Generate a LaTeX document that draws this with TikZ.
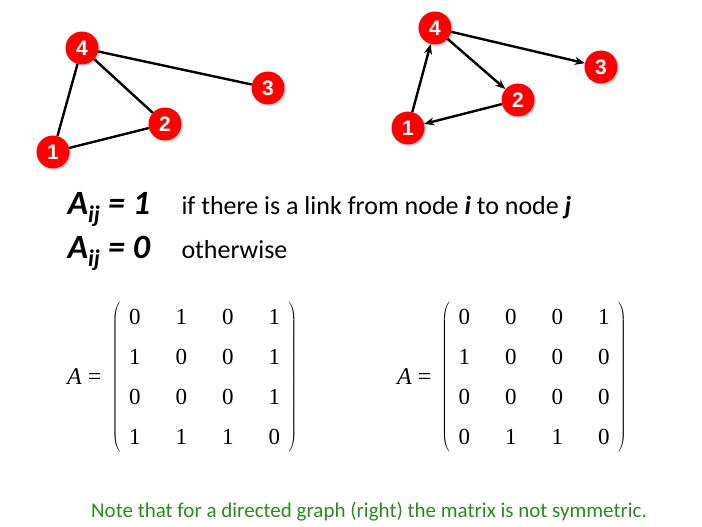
\documentclass[tikz,border=0pt]{standalone}
\usepackage{fontspec}
\setmainfont{Carlito}
\newfontfamily\numfont{Liberation Sans}
\newfontfamily\matfont{Liberation Serif}
\usetikzlibrary{arrows.meta, matrix, shadows}
\definecolor{nodered}{HTML}{FF0000}
\definecolor{notegreen}{HTML}{2A8A1E}

\begin{document}
\begin{tikzpicture}[
    x=1pt, y=-1pt,
    >=Stealth,
    vertex/.style={circle, fill=nodered, minimum size=33pt, inner sep=0pt,
        text=white, font=\numfont\bfseries\fontsize{21}{21}\selectfont,
        drop shadow={opacity=0.35, shadow xshift=1.5pt, shadow yshift=-1.5pt}},
    link/.style={line width=2.4pt},
    arc/.style={link, -{Stealth[length=10pt, width=8pt]}},
    defn/.style={anchor=base west, font=\bfseries\itshape\fontsize{34}{34}\selectfont},
    expl/.style={anchor=base west, font=\fontsize{26}{26}\selectfont},
    eqlabel/.style={anchor=base east, font=\matfont\fontsize{24}{24}\selectfont},
    adjmat/.style={matrix of nodes, inner sep=0pt, column sep=20.5pt, row sep=10pt,
        nodes={font=\matfont\fontsize{23}{23}\selectfont, minimum width=26pt,
            minimum height=30pt, inner sep=0pt, anchor=center},
        left delimiter=(, right delimiter=)},
]
\useasboundingbox (0,0) rectangle (702,527);

% Undirected graph (left)
\node[vertex] (u4) at (82,48) {4};
\node[vertex] (u3) at (268,88) {3};
\node[vertex] (u2) at (165,124) {2};
\node[vertex] (u1) at (53,152) {1};
\draw[link] (u1) -- (u4);
\draw[link] (u1) -- (u2);
\draw[link] (u4) -- (u2);
\draw[link] (u4) -- (u3);

% Directed graph (right)
\node[vertex] (d4) at (435,28) {4};
\node[vertex] (d3) at (601,67) {3};
\node[vertex] (d2) at (518,100) {2};
\node[vertex] (d1) at (408,128) {1};
\draw[arc] (d1) -- (d4);
\draw[arc] (d4) -- (d2);
\draw[arc] (d4) -- (d3);
\draw[arc] (d2) -- (d1);

% Definition of the entries
\node[defn] (a1) at (64,214) {A\textsubscript{ij} = 1};
\node[expl] (t1) at (178,214) {if there is a link from node \textbf{\textit{i}} to node \textbf{\textit{j}}};
\node[defn] (a0) at (64,258) {A\textsubscript{ij} = 0};
\node[expl] (t0) at (178,258) {otherwise};

% Adjacency matrices
\matrix (adjL) at (204.5,377) [adjmat] {
    0 & 1 & 0 & 1 \\
    1 & 0 & 0 & 1 \\
    0 & 0 & 0 & 1 \\
    1 & 1 & 1 & 0 \\
};
\node[eqlabel] (eqL) at (105,384) {\textit{A} =};

\matrix (adjR) at (534,377) [adjmat] {
    0 & 0 & 0 & 1 \\
    1 & 0 & 0 & 0 \\
    0 & 0 & 0 & 0 \\
    0 & 1 & 1 & 0 \\
};
\node[eqlabel] (eqR) at (435,384) {\textit{A} =};

% Remark
\node[text=notegreen, font=\fontsize{21}{21}\selectfont] (note) at (369,512)
    {Note that for a directed graph (right) the matrix is not symmetric.};
\end{tikzpicture}
\end{document}
